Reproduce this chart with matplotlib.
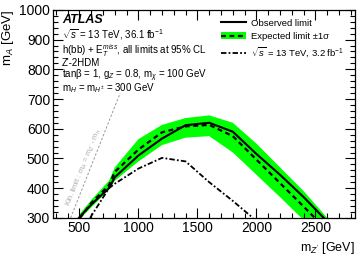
import matplotlib
matplotlib.use("Agg")
import matplotlib.pyplot as plt
import numpy as np
from matplotlib.ticker import MultipleLocator
from matplotlib.lines import Line2D
from matplotlib.patches import Patch

plt.rcParams['font.family'] = ['Liberation Sans', 'DejaVu Sans']
plt.rcParams['mathtext.fontset'] = 'custom'
plt.rcParams['mathtext.rm'] = 'Liberation Sans'
plt.rcParams['mathtext.it'] = 'Liberation Sans:italic'

# Observed limit
obs_x = [495, 600, 750, 800, 1000, 1200, 1400, 1600, 1800, 2000, 2200, 2400, 2570]
obs_y = [300, 345, 400, 437, 510, 567, 612, 620, 590, 515, 445, 370, 300]
# Expected limit
exp_x = [505, 600, 750, 800, 1000, 1200, 1400, 1600, 1800, 2000, 2200, 2400, 2495]
exp_y = [300, 350, 410, 455, 530, 588, 608, 613, 575, 496, 417, 338, 300]
# +-1 sigma band
band_lo_x = [500, 600, 750, 800, 1000, 1200, 1400, 1600, 1800, 2000, 2200, 2380]
band_lo_y = [295, 335, 395, 425, 490, 545, 570, 575, 520, 445, 370, 300]
band_hi_x = [500, 600, 750, 800, 1000, 1200, 1400, 1600, 1800, 2000, 2200, 2400, 2600]
band_hi_y = [312, 360, 425, 470, 565, 613, 636, 645, 620, 550, 470, 390, 300]
# 3.2 fb-1 observed
old_x = [590, 750, 800, 1000, 1200, 1400, 1600, 1800, 1970]
old_y = [300, 400, 415, 466, 502, 490, 420, 357, 300]
# kinematic limit mA = mZ' - mh
kin_x = [425, 845]
mh = 125

fig = plt.figure(figsize=(3.6, 2.6), dpi=100)
ax = fig.add_axes([0.147, 0.162, 0.839, 0.800])

poly_x = band_lo_x + band_hi_x[::-1]
poly_y = band_lo_y + band_hi_y[::-1]
ax.fill(poly_x, poly_y, color='#00ff00', lw=0, zorder=1)
ax.plot(exp_x, exp_y, color='black', lw=1.6, ls=(0, (2.2, 1.6)), zorder=3)
ax.plot(obs_x, obs_y, color='black', lw=1.5, zorder=4)
ax.plot(old_x, old_y, color='black', lw=1.3, ls=(0, (3, 1.2, 1, 1.2)), zorder=3)
kx = np.array(kin_x)
ax.plot(kx, kx - mh, color='#999999', lw=0.7, ls=(0, (2.5, 1.8)), zorder=2)
ax.text(540, 470, "Kin. limit : m$_{A}$ = m$_{Z'}$ - m$_{h}$", color='#aaaaaa',
        fontsize=5.5, rotation=68, rotation_mode='anchor', ha='center', va='center')

ax.set_xlim(275, 2835)
ax.set_ylim(300, 1000)
ax.xaxis.set_major_locator(MultipleLocator(500))
ax.xaxis.set_minor_locator(MultipleLocator(100))
ax.yaxis.set_major_locator(MultipleLocator(100))
ax.yaxis.set_minor_locator(MultipleLocator(20))
ax.tick_params(which='both', direction='in', top=True, right=True, labelsize=10, pad=2)
ax.tick_params(which='major', length=7, width=0.8)
ax.tick_params(which='minor', length=3.5, width=0.8)
for s in ax.spines.values():
    s.set_linewidth(0.9)

ax.set_xlabel("m$_{Z'}$ [GeV]", fontsize=9, loc='right', labelpad=4)
ax.set_ylabel("m$_{A}$ [GeV]", fontsize=9.5, loc='top')
ax.yaxis.set_label_coords(-0.123, 1.0)

tx = 0.03
ax.text(tx, 0.95, "ATLAS", transform=ax.transAxes, fontsize=9, fontweight='bold',
        fontstyle='italic', va='center')
lines = [
    "$\\sqrt{s}$ = 13 TeV, 36.1 fb$^{-1}$",
    "h(bb) + E$_{T}^{miss}$, all limits at 95% CL",
    "Z'-2HDM",
    "tan\u03b2 = 1, g$_{Z}$ = 0.8, m$_{\\chi}$ = 100 GeV",
    "m$_{H}$ = m$_{H^{\\pm}}$ = 300 GeV",
]
ys = [0.88, 0.805, 0.745, 0.685, 0.625]
for t, y in zip(lines, ys):
    ax.text(tx, y, t, transform=ax.transAxes, fontsize=7, va='center')

handles = [
    Line2D([], [], color='black', lw=1.5),
    (Patch(facecolor='#00ff00', lw=0), Line2D([], [], color='black', lw=1.6, ls=(0, (2.2, 1.6)))),
    Line2D([], [], color='black', lw=1.3, ls=(0, (3, 1.2, 1, 1.2))),
]
labels = ["Observed limit", "Expected limit \u00b11\u03c3", "$\\sqrt{s}$ = 13 TeV, 3.2 fb$^{-1}$"]
ax.legend(handles, labels, loc='upper right', bbox_to_anchor=(0.985, 0.99), frameon=False,
          fontsize=6.8, handlelength=2.6, handletextpad=0.5, labelspacing=0.45,
          borderaxespad=0.3)

fig.savefig("out.png", dpi=100)
